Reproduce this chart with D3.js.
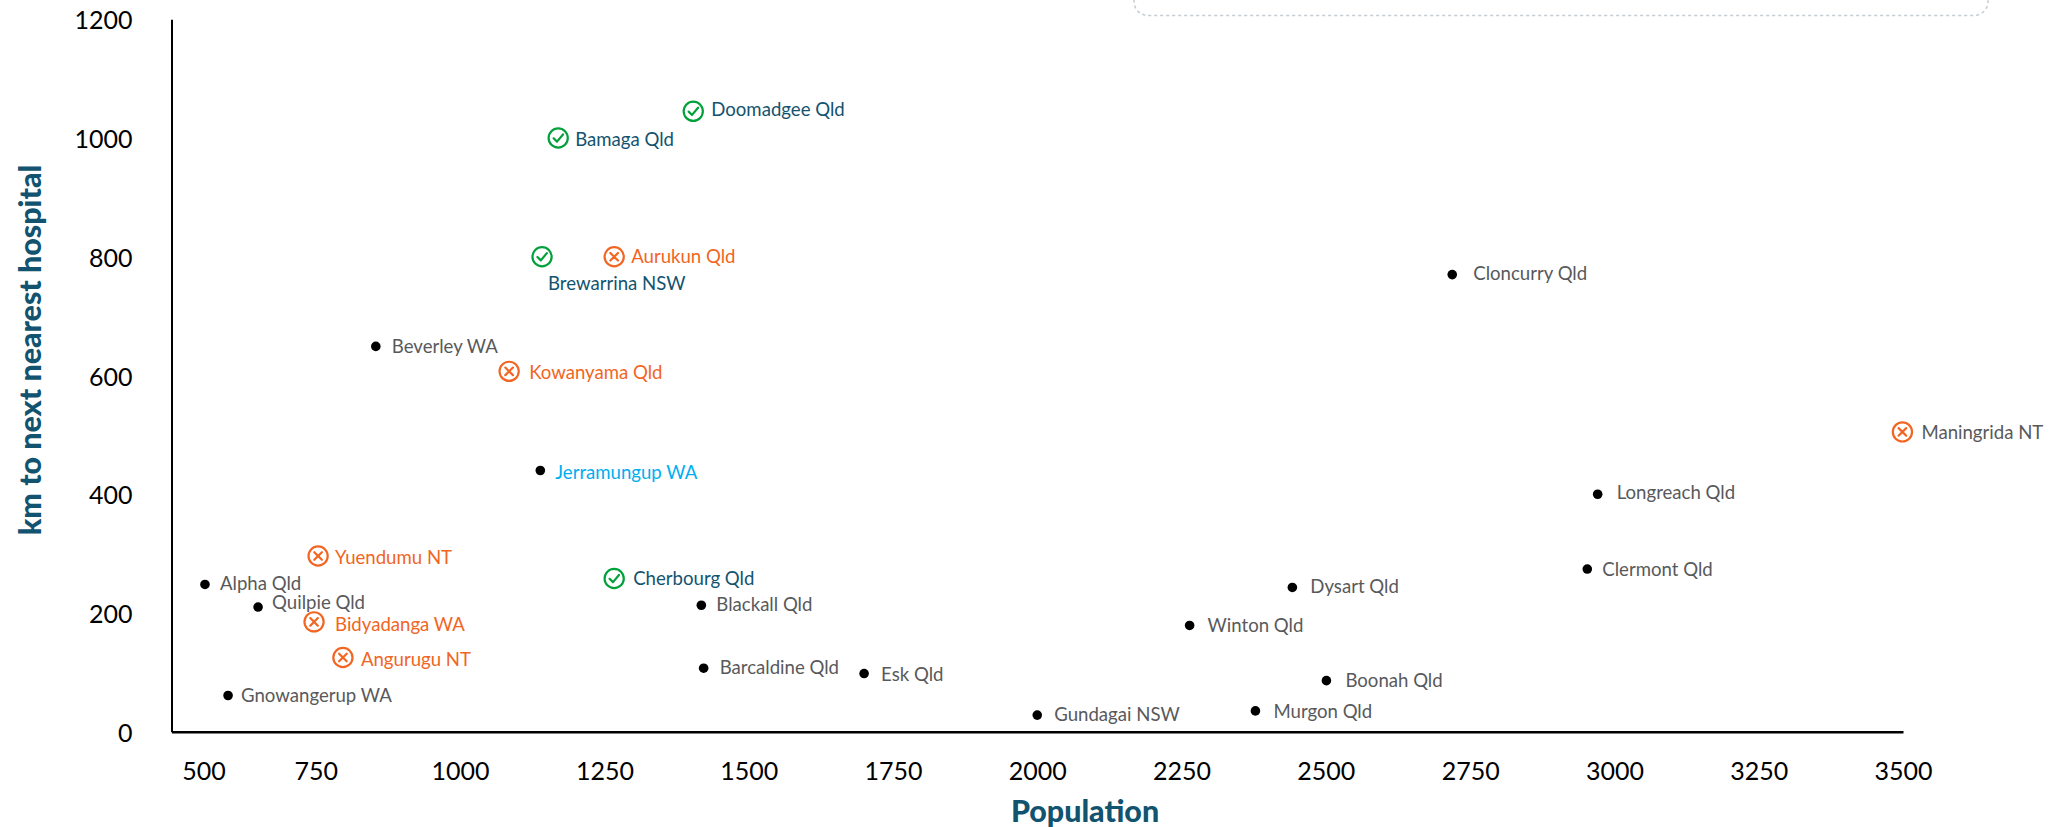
<!DOCTYPE html>
<html>
<head>
<meta charset="utf-8">
<script src="https://cdn.jsdelivr.net/npm/d3@7"></script>
<style>
  html, body { margin: 0; padding: 0; background: #fff; }
  svg { display: block; font-family: Lato, sans-serif; }
  .tick text { font-family: Lato, sans-serif; font-size: 25px; fill: #000; }
  .axis-title { font-size: 30.4px; font-weight: 900; fill: #12536f; }
  .town { font-size: 18.6px; }
</style>
</head>
<body>
<div id="graph"></div>
<script>
let towns = ["Doomadgee Qld", "Bamaga Qld", "Brewarrina NSW", "Aurukun Qld", "Beverley WA", "Kowanyama Qld", "Jerramungup WA",
  "Yuendumu NT", "Alpha Qld", "Quilpie Qld", "Bidyadanga WA", "Angurugu NT", "Gnowangerup WA", "Cherbourg Qld",
  "Blackall Qld", "Barcaldine Qld", "Esk Qld", "Gundagai NSW", "Murgon Qld", "Winton Qld", "Dysart Qld", "Boonah Qld",
  "Maningrida NT", "Longreach Qld", "Clermont Qld", "Cloncurry Qld"];
let population = [1404, 1170, 1142, 1267, 854, 1085, 1139, 754, 558, 650, 747, 797, 598, 1267,
  1418, 1422, 1700, 2000, 2378, 2264, 2442, 2501, 3499, 2971, 2953, 2719];
let kmToHospital = [1045, 1000, 800, 800, 649, 607, 440, 296, 248, 210, 185, 125, 61, 258,
  213, 107, 98, 28, 35, 179, 243, 86, 505, 400, 274, 770];
let marker = ["check", "check", "check", "cross", "dot", "cross", "dot", "cross", "dot", "dot", "cross", "cross", "dot", "check",
  "dot", "dot", "dot", "dot", "dot", "dot", "dot", "dot", "cross", "dot", "dot", "dot"];
let labelGroup = ["navy", "navy", "navy", "orange", "grey", "orange", "blue", "orange", "grey", "grey", "orange", "orange", "grey", "navy",
  "grey", "grey", "grey", "grey", "grey", "grey", "grey", "grey", "grey", "grey", "grey", "grey"];
let xTicks = [500, 750, 1000, 1250, 1500, 1750, 2000, 2250, 2500, 2750, 3000, 3250, 3500];
let yTicks = [0, 200, 400, 600, 800, 1000, 1200];

let width = 2062,
    height = 827;

let x = d3.scaleLinear().domain([500, 3500]).range([171.5, 1903]);
let y = d3.scaleLinear().domain([0, 1200]).range([731.7, 19.3]);

let labelColor = d3.scaleOrdinal(["navy", "orange", "grey", "blue"], ["#12536f", "#f26522", "#58595b", "#00aeef"]);
let markerColor = d3.scaleOrdinal(["check", "cross"], ["#00a13a", "#f26522"]);

// hand placed labels, gap from the marker to the text (most sit a bit off the centre line)
let labelNudge = {
  "Doomadgee Qld": [18, 0], "Bamaga Qld": [17, 3], "Brewarrina NSW": [6, 29], "Aurukun Qld": [17, 2],
  "Beverley WA": [16, 2], "Kowanyama Qld": [20, 3], "Jerramungup WA": [15, 4], "Yuendumu NT": [17, 3],
  "Alpha Qld": [15, 1], "Quilpie Qld": [14, -3], "Bidyadanga WA": [21, 4], "Angurugu NT": [18, 4],
  "Gnowangerup WA": [13, 2], "Cherbourg Qld": [19, 2], "Blackall Qld": [15, 1], "Barcaldine Qld": [16, 1],
  "Esk Qld": [17, 3], "Gundagai NSW": [17, 1], "Murgon Qld": [18, 2], "Winton Qld": [18, 2],
  "Dysart Qld": [18, 1], "Boonah Qld": [19, 2], "Maningrida NT": [19, 2], "Longreach Qld": [19, 0],
  "Clermont Qld": [15, 2], "Cloncurry Qld": [21, 1]
};

let svg = d3.select("#graph").append("svg")
    .attr("width", width)
    .attr("height", height);

// bottom of the legend box, the rest of it is cut off by the top of the page
svg.append("rect")
    .attr("x", 1134)
    .attr("y", -60)
    .attr("width", 854)
    .attr("height", 75.5)
    .attr("rx", 14)
    .attr("fill", "none")
    .attr("stroke", "#c4ccd0")
    .attr("stroke-width", 1.5)
    .attr("stroke-dasharray", "3 3");

let xAxis = svg.append("g")
    .attr("transform", "translate(0," + y(0) + ")")
    .call(d3.axisBottom(x).tickValues(xTicks).tickSize(0).tickPadding(31).tickFormat(d3.format("d")));
xAxis.select(".domain").attr("stroke", "#000").attr("stroke-width", 2.5);
// 500 label is pushed in clear of the y axis
xAxis.selectAll(".tick text").filter(d => d == 500).attr("dx", 32);

let yAxis = svg.append("g")
    .attr("transform", "translate(" + x(500) + ",0)")
    .call(d3.axisLeft(y).tickValues(yTicks).tickSize(0).tickPadding(39).tickFormat(d3.format("d")));
yAxis.select(".domain").attr("stroke", "#000").attr("stroke-width", 2);
yAxis.selectAll(".tick text").attr("dy", "0.38em");

svg.append("text")
    .attr("class", "axis-title")
    .attr("text-anchor", "middle")
    .attr("transform", "translate(41,350) rotate(-90)")
    .text("km to next nearest hospital");

svg.append("text")
    .attr("class", "axis-title")
    .attr("text-anchor", "middle")
    .attr("x", 1085)
    .attr("y", 822)
    .text("Population");

let points = svg.append("g")
    .selectAll("g")
    .data(towns)
  .enter().append("g")
    .attr("transform", (d, i) => "translate(" + x(population[i]) + "," + y(kmToHospital[i]) + ")");

points.filter((d, i) => marker[i] == "dot").append("circle")
    .attr("r", 4.8)
    .attr("fill", "#000");

let icons = points.filter((d, i) => marker[i] != "dot")
    .attr("fill", "none")
    .attr("stroke", d => markerColor(marker[towns.indexOf(d)]))
    .attr("stroke-width", 2.2);

icons.append("circle").attr("r", 9.6);
icons.append("path")
    .attr("stroke-linecap", "round")
    .attr("stroke-linejoin", "round")
    .attr("d", d => marker[towns.indexOf(d)] == "check" ? "M-4.6,0.3L-1.2,3.6L4.8,-3.6" : "M-3.8,-3.8L3.8,3.8M-3.8,3.8L3.8,-3.8");

points.append("text")
    .attr("class", "town")
    .attr("stroke", "none")
    .attr("dominant-baseline", "middle")
    .attr("x", d => labelNudge[d][0])
    .attr("y", d => labelNudge[d][1])
    .attr("fill", d => labelColor(labelGroup[towns.indexOf(d)]))
    .text(d => d);
</script>
</body>
</html>
